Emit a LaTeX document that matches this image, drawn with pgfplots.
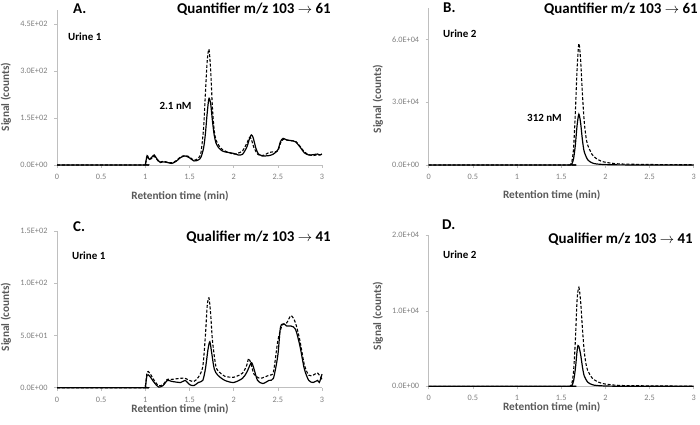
\documentclass[border=0pt]{standalone}
\usepackage{pgfplots}
\pgfplotsset{compat=1.18}
\usepackage{fontspec}
\setmainfont{Carlito}
\definecolor{ticktext}{HTML}{7F7F7F}
\definecolor{labtext}{HTML}{595959}
\definecolor{axline}{HTML}{BFBFBF}

\pgfplotsset{
  chrom/.style={
    scale only axis,
    width=265bp,
    axis lines=left,
    axis line style={-,draw=axline,line width=0.6pt},
    xmin=0, xmax=3, ymin=0,
    xtick={0,0.5,1,1.5,2,2.5,3},
    xticklabels={0,0.5,1,1.5,2,2.5,3},
    scaled y ticks=false,
    scaled x ticks=false,
    tick style={draw=axline,line width=0.5pt},
    major tick length=3bp,
    tick align=outside,
    ticklabel style={font=\fontsize{8.3}{9}\selectfont,text=ticktext},
    /pgf/number format/assume math mode=true,
    xticklabel style={yshift=-2.5bp},
    yticklabel style={xshift=-3bp},
    clip=false,
  },
  solidtrace/.style={black,line width=1.2pt,smooth,tension=0.45},
  dashtrace/.style={black,line width=1.1pt,dash pattern=on 3pt off 1.8pt,smooth,tension=0.45},
}

\begin{document}
\begin{tikzpicture}[x=1bp,y=1bp]
\useasboundingbox (0,0) rectangle (700,424);

% A: quantifier, urine 1
\begin{axis}[chrom, at={(57bp,259bp)}, anchor=south west, height=155bp, ymax=495,
  ytick={0,150,300,450}, yticklabels={0.0E+00,1.5E+02,3.0E+02,4.5E+02}]
\addplot[dashtrace] coordinates {
(0,0)(0.98,0)(1.0,2)(1.02,25)(1.05,18)(1.08,22)(1.1,28)(1.13,18)(1.16,9)(1.2,12)
(1.25,9)(1.3,7)(1.35,14)(1.4,26)(1.45,30)(1.5,26)(1.55,15)(1.6,22)(1.63,40)(1.66,120)
(1.68,230)(1.70,330)(1.72,370)(1.74,300)(1.76,180)(1.78,110)(1.8,80)(1.85,55)(1.9,45)
(2.0,35)(2.05,38)(2.1,45)(2.15,70)(2.18,88)(2.2,82)(2.23,55)(2.27,35)(2.3,30)(2.35,32)
(2.4,40)(2.45,42)(2.5,45)(2.53,70)(2.56,82)(2.6,80)(2.65,77)(2.7,76)(2.75,60)(2.8,42)
(2.85,33)(2.9,30)(2.95,33)(3.0,32)};
\addplot[solidtrace] coordinates {
(0,0)(0.98,0)(1.0,2)(1.02,30)(1.045,18)(1.07,24)(1.10,32)(1.13,20)(1.17,8)(1.2,10)
(1.25,8)(1.3,5)(1.35,12)(1.4,24)(1.45,29)(1.5,23)(1.55,13)(1.6,16)(1.63,25)(1.66,55)
(1.68,100)(1.70,165)(1.72,213)(1.74,195)(1.76,140)(1.78,95)(1.80,70)(1.83,55)(1.87,45)
(1.9,42)(2.0,37)(2.05,32)(2.1,34)(2.15,58)(2.18,85)(2.2,96)(2.22,88)(2.25,55)(2.28,35)
(2.32,29)(2.4,30)(2.45,35)(2.5,48)(2.53,75)(2.56,85)(2.6,80)(2.65,78)(2.7,74)(2.75,58)
(2.8,39)(2.85,32)(2.9,33)(2.95,35)(2.97,32)(3.0,35)};
\end{axis}

% B: quantifier, urine 2
\begin{axis}[chrom, at={(428.7bp,259bp)}, anchor=south west, height=157bp, ymax=75000,
  ytick={0,30000,60000}, yticklabels={0.0E+00,3.0E+04,6.0E+04}]
\addplot[dashtrace] coordinates {
(0,0)(1.58,0)(1.6,100)(1.62,1500)(1.64,8000)(1.66,25000)(1.68,46000)(1.70,58000)
(1.72,50000)(1.74,34000)(1.76,21000)(1.78,13500)(1.8,9500)(1.85,5000)(1.9,3000)
(1.95,1900)(2.0,1300)(2.1,700)(2.2,450)(2.4,300)(2.6,200)(3,100)};
\addplot[solidtrace] coordinates {
(0,0)(1.58,0)(1.6,0)(1.62,500)(1.64,3000)(1.66,9500)(1.68,19000)(1.70,24300)
(1.72,20000)(1.74,12000)(1.76,6500)(1.8,2500)(1.85,1000)(1.9,500)(2.0,200)(2.2,50)(3,0)};
\end{axis}

% C: qualifier, urine 1
\begin{axis}[chrom, at={(57bp,36.3bp)}, anchor=south west, height=156.7bp, ymax=150,
  ytick={0,50,100,150}, yticklabels={0.0E+00,5.0E+01,1.0E+02,1.5E+02}]
\addplot[dashtrace] coordinates {
(0,0)(0.98,0)(1.0,1)(1.02,15)(1.05,14)(1.1,7)(1.15,2)(1.2,3)(1.25,8)(1.3,8)(1.4,9)
(1.45,9)(1.5,7)(1.55,6)(1.6,10)(1.65,20)(1.68,50)(1.70,78)(1.72,86)(1.74,70)(1.76,45)
(1.8,20)(1.85,14)(1.9,11)(2.0,10)(2.1,14)(2.15,22)(2.17,28)(2.2,22)(2.23,13)(2.3,9)
(2.4,12)(2.45,15)(2.5,45)(2.55,60)(2.6,62)(2.65,69)(2.7,62)(2.75,45)(2.8,22)(2.85,12)
(2.9,12)(2.95,14)(3.0,8)};
\addplot[solidtrace] coordinates {
(0,0)(0.98,0)(1.0,1)(1.02,12)(1.05,11)(1.1,5)(1.15,0.6)(1.2,2)(1.25,7)(1.3,6)(1.4,5)
(1.45,7)(1.5,3)(1.55,2)(1.6,5)(1.65,7)(1.68,18)(1.71,37)(1.73,44)(1.75,34)(1.78,18)
(1.82,12)(1.9,7)(2.0,5)(2.1,9)(2.15,15)(2.2,24)(2.23,18)(2.27,7)(2.33,4)(2.4,7)
(2.45,9)(2.5,31)(2.53,58)(2.57,61)(2.6,59)(2.65,59)(2.7,56)(2.75,40)(2.8,18)(2.85,7)
(2.9,5)(2.95,7)(2.97,5)(3.0,13)};
\end{axis}

% D: qualifier, urine 2
\begin{axis}[chrom, at={(428.7bp,37.7bp)}, anchor=south west, height=151bp, ymax=20000,
  ytick={0,10000,20000}, yticklabels={0.0E+00,1.0E+04,2.0E+04}]
\addplot[dashtrace] coordinates {
(0,0)(1.58,0)(1.6,20)(1.62,350)(1.64,2000)(1.66,6000)(1.68,11500)(1.70,13100)
(1.72,11200)(1.74,7700)(1.76,4700)(1.78,3000)(1.8,2100)(1.85,1100)(1.9,680)(1.95,430)
(2.0,300)(2.1,160)(2.2,100)(2.4,70)(2.6,45)(3,20)};
\addplot[solidtrace] coordinates {
(0,0)(1.58,0)(1.6,0)(1.62,100)(1.64,700)(1.66,2300)(1.68,4700)(1.69,5400)(1.70,5300)
(1.72,4200)(1.74,2600)(1.76,1400)(1.8,550)(1.85,220)(1.9,110)(2.0,40)(2.2,10)(3,0)};
\end{axis}

% axis titles
\tikzset{axlab/.style={font=\fontsize{11.3}{12}\selectfont\bfseries,text=labtext,inner sep=0pt}}
\node[axlab] at (180,228) {Retention time (min)};
\node[axlab] at (551.7,229) {Retention time (min)};
\node[axlab] at (180,15.3) {Retention time (min)};
\node[axlab] at (551.7,17) {Retention time (min)};
\node[axlab,rotate=90] at (6,327) {Signal (counts)};
\node[axlab,rotate=90] at (378,325) {Signal (counts)};
\node[axlab,rotate=90] at (6,107) {Signal (counts)};
\node[axlab,rotate=90] at (378,108) {Signal (counts)};

% panel letters and headings
\tikzset{letter/.style={font=\fontsize{15}{16}\selectfont\bfseries,anchor=west,inner sep=0pt},
         head/.style={font=\fontsize{15}{16}\selectfont\bfseries,anchor=east,inner sep=0pt},
         note/.style={font=\fontsize{11}{12}\selectfont\bfseries,inner sep=0pt}}
\node[letter] at (73,415) {A.};
\node[head] at (331,415) {Quantifier m/z 103 $\rightarrow$ 61};
\node[letter] at (443,416) {B.};
\node[head] at (698,415) {Quantifier m/z 103 $\rightarrow$ 61};
\node[letter] at (73,197) {C.};
\node[head] at (331,187) {Qualifier m/z 103 $\rightarrow$ 41};
\node[letter] at (442,199) {D.};
\node[head] at (693,185) {Qualifier m/z 103 $\rightarrow$ 41};

\node[note,anchor=west] at (68,387) {Urine 1};
\node[note,anchor=west] at (443,390) {Urine 2};
\node[note,anchor=west] at (72,168) {Urine 1};
\node[note,anchor=west] at (443,169) {Urine 2};
\node[note] at (175.5,318) {2.1 nM};
\node[note] at (544.5,306) {312 nM};
\end{tikzpicture}
\end{document}
